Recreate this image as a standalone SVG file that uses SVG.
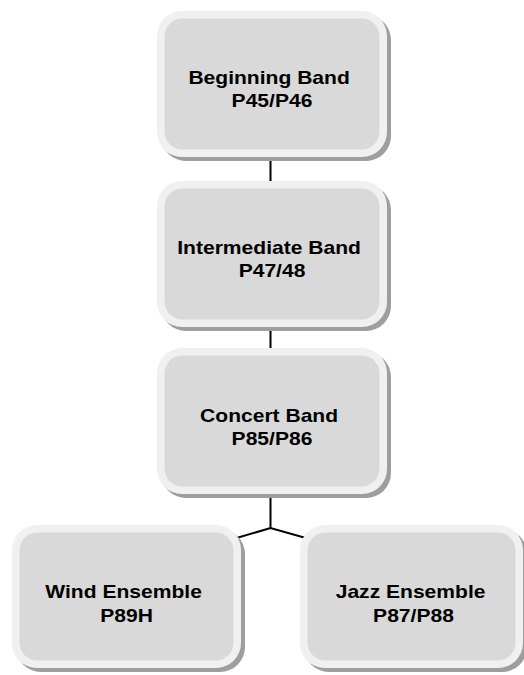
<svg xmlns="http://www.w3.org/2000/svg" width="524" height="675" viewBox="0 0 524 675">
  <style>
    .shadow { fill: #9e9e9e; }
    .frame { fill: #f0f0f0; }
    .face { fill: #d9d9d9; }
    .label { font-family: "Liberation Sans", Arial, Helvetica, sans-serif; font-weight: bold; font-size: 18px; fill: #000; text-anchor: middle; }
    .link { stroke: #000; stroke-width: 2; fill: none; }
  </style>

  <!-- connectors sit below the boxes -->
  <g id="connectors">
    <line class="link" x1="270.5" y1="157" x2="270.5" y2="181"/>
    <line class="link" x1="270.5" y1="327" x2="270.5" y2="349"/>
    <polyline class="link" points="270.5,494 270.5,528"/>
    <polyline class="link" points="228,540.5 270.5,528 313,540"/>
  </g>

  <g id="beginning-band">
    <rect class="shadow" x="161" y="15" width="230" height="146" rx="25"/>
    <rect class="frame" x="157" y="11" width="230" height="146" rx="25"/>
    <rect class="face" x="164.5" y="18.5" width="215" height="131" rx="18"/>
    <text class="label" transform="translate(272,0) scale(1.17,1)">
      <tspan x="0" y="84">Beginning Band</tspan>
      <tspan x="0" y="107">P45/P46</tspan>
    </text>
  </g>

  <g id="intermediate-band">
    <rect class="shadow" x="161" y="185" width="230" height="146" rx="25"/>
    <rect class="frame" x="157" y="181" width="230" height="146" rx="25"/>
    <rect class="face" x="164.5" y="188.5" width="215" height="131" rx="18"/>
    <text class="label" transform="translate(272,0) scale(1.17,1)">
      <tspan x="0" y="254">Intermediate Band</tspan>
      <tspan x="0" y="277">P47/48</tspan>
    </text>
  </g>

  <g id="concert-band">
    <rect class="shadow" x="161" y="352" width="230" height="146" rx="25"/>
    <rect class="frame" x="157" y="348" width="230" height="146" rx="25"/>
    <rect class="face" x="164.5" y="355.5" width="215" height="131" rx="18"/>
    <text class="label" transform="translate(272,0) scale(1.17,1)">
      <tspan x="0" y="422">Concert Band</tspan>
      <tspan x="0" y="445">P85/P86</tspan>
    </text>
  </g>

  <g id="wind-ensemble">
    <rect class="shadow" x="16" y="529" width="229" height="143" rx="25"/>
    <rect class="frame" x="12" y="525" width="229" height="143" rx="25"/>
    <rect class="face" x="19.5" y="532.5" width="214" height="128" rx="18"/>
    <text class="label" transform="translate(126.5,0) scale(1.17,1)">
      <tspan x="0" y="598">Wind Ensemble</tspan>
      <tspan x="0" y="622">P89H</tspan>
    </text>
  </g>

  <g id="jazz-ensemble">
    <rect class="shadow" x="304" y="529" width="223" height="143" rx="25"/>
    <rect class="frame" x="300" y="525" width="223" height="143" rx="25"/>
    <rect class="face" x="307.5" y="532.5" width="208" height="128" rx="18"/>
    <text class="label" transform="translate(413.5,0) scale(1.17,1)">
      <tspan x="0" y="598">Jazz Ensemble</tspan>
      <tspan x="0" y="622">P87/P88</tspan>
    </text>
  </g>
</svg>
